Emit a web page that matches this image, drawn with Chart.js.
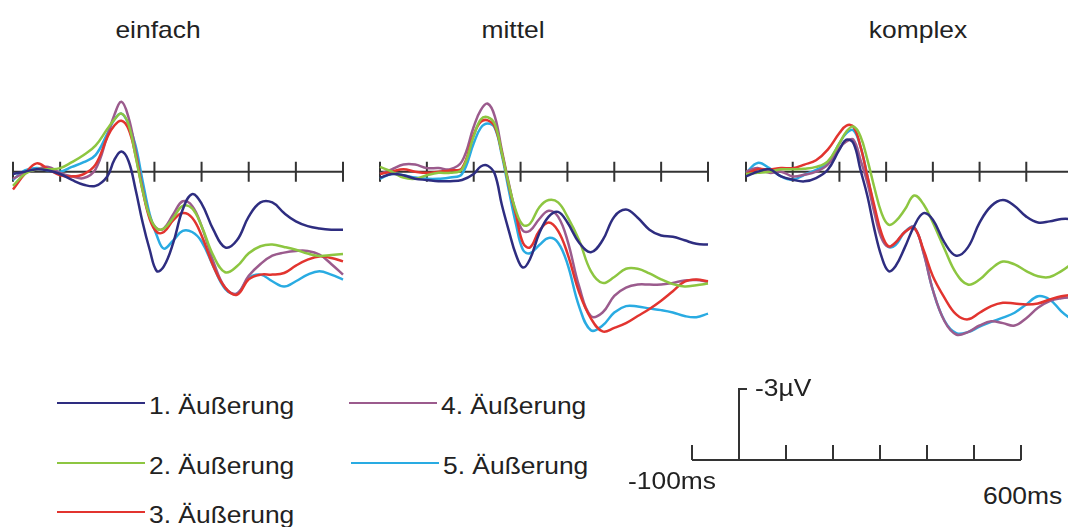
<!DOCTYPE html>
<html>
<head>
<meta charset="utf-8">
<script src="https://cdn.jsdelivr.net/npm/chart.js@4/dist/chart.umd.min.js"></script>
<style>
  body { margin: 0; background: #fff; }
  #wrap { position: relative; width: 1068px; height: 527px; overflow: hidden;
          font-family: "Liberation Sans", Arial, sans-serif; color: #222; }
  canvas { position: absolute; }
  .lbl { position: absolute; font-size: 24px; line-height: 1; white-space: nowrap;
         transform-origin: 0 50%; transform: translateY(-50%) scaleX(1.1); }
  .lbl.mid { transform-origin: 50% 50%; transform: translate(-50%, -50%) scaleX(1.1); }
  .key { position: absolute; height: 0; border-top: 2.5px solid; }
</style>
</head>
<body>
<div id="wrap"></div>
<script>
// time base (ms) shared by all waves, and the axis ticks
const times = [-100,-75,-50,-25,0,25,50,75,100,115,130,145,160,175,190,205,220,240,260,280,300,325,350,375,400,425,450,475,500,525,550,575,600];
const tickTimes = [-100,0,100,200,300,400,500,600];

const seriesNames = ["1. Äußerung","2. Äußerung","3. Äußerung","4. Äußerung","5. Äußerung"];
const seriesColors = ["#2e2d80","#8dc641","#e2342f","#9b5b8d","#29abe2"];
const panelTitles = ["einfach","mittel","komplex"];

// amplitudes in µV (negative plotted up)
const einfach1 = [0.1,0.0,-0.1,-0.05,0.1,0.35,0.55,0.6,0.2,-0.5,-0.85,-0.45,0.75,2.15,3.3,4.2,4.0,3.0,1.6,0.95,1.35,2.45,3.2,2.9,1.9,1.3,1.3,1.75,2.1,2.3,2.4,2.45,2.45];
const einfach2 = [0.6,0.1,-0.1,-0.1,-0.15,-0.4,-0.7,-1.1,-1.8,-2.2,-2.45,-2.0,-0.65,0.8,1.9,2.4,2.4,1.95,1.45,1.55,2.3,3.55,4.25,4.0,3.45,3.15,3.08,3.18,3.3,3.46,3.56,3.52,3.48];
const einfach3 = [0.75,0.1,-0.35,-0.1,0.15,0.2,0.1,-0.3,-1.45,-1.95,-2.15,-1.8,-0.7,0.8,2.0,2.55,2.55,2.05,1.75,1.95,2.7,4.0,4.9,5.2,4.55,4.35,4.35,4.28,3.97,3.72,3.58,3.65,3.79];
const einfach4 = [0.3,0.05,-0.1,-0.2,0.05,0.2,0.27,-0.1,-1.5,-2.4,-2.95,-2.3,-0.9,0.7,1.9,2.4,2.4,1.8,1.25,1.45,2.3,3.8,4.9,5.15,4.4,3.9,3.55,3.42,3.35,3.35,3.5,3.9,4.35];
const einfach5 = [0.35,-0.05,-0.15,-0.05,0.0,-0.2,-0.4,-0.7,-1.6,-2.2,-2.45,-2.0,-1.1,0.4,1.8,2.7,3.25,2.9,2.5,2.55,2.95,4.0,4.95,5.15,4.5,4.35,4.63,4.85,4.63,4.35,4.21,4.35,4.56];

const mittel1 = [0.25,0.1,0.15,0.3,0.35,0.4,0.4,0.35,0.1,-0.22,-0.25,0.1,1.4,2.5,3.5,4.05,3.7,2.6,1.9,1.7,2.15,3.0,3.4,2.9,1.9,1.6,1.95,2.45,2.7,2.75,2.9,3.05,3.08];
const mittel2 = [-0.2,0.0,0.25,0.3,0.15,0.05,0.05,-0.1,-1.5,-2.2,-2.3,-2.0,-0.8,0.55,1.65,2.25,2.2,1.5,1.2,1.3,1.9,2.9,4.2,4.7,4.45,4.1,4.1,4.3,4.55,4.75,4.85,4.8,4.73];
const mittel3 = [0.1,0.0,-0.1,0.0,0.05,0.0,-0.05,-0.15,-1.56,-2.1,-2.17,-1.9,-0.8,0.6,1.8,3.0,3.2,2.5,2.15,2.5,3.45,5.1,6.2,6.75,6.6,6.4,6.1,5.8,5.45,5.05,4.65,4.56,4.63];
const mittel4 = [0.1,-0.1,-0.3,-0.3,-0.15,-0.15,-0.1,-0.44,-1.9,-2.6,-2.87,-2.34,-0.9,0.5,1.75,2.5,2.5,2.0,1.65,1.9,2.9,4.85,6.1,5.95,5.25,4.9,4.77,4.77,4.77,4.7,4.6,4.58,4.66];
const mittel5 = [0.3,0.1,0.15,0.25,0.3,0.3,0.25,0.1,-1.2,-1.85,-2.03,-1.85,-0.7,0.8,2.2,3.3,3.45,3.1,2.8,3.0,3.9,5.7,6.7,6.5,5.95,5.68,5.7,5.78,5.85,5.95,6.1,6.15,6.0];

const komplex1 = [0.2,0.0,-0.1,0.2,0.34,0.41,0.27,-0.08,-0.93,-1.35,-1.2,-0.08,1.04,2.45,3.58,4.2,4.0,3.2,2.3,1.75,2.03,3.0,3.55,3.2,2.15,1.45,1.2,1.45,1.9,2.15,2.1,2.0,2.0];
const komplex2 = [0.1,0.05,0.0,-0.1,-0.1,-0.12,-0.2,-0.44,-1.2,-1.7,-1.91,-1.5,-0.5,0.69,1.74,2.24,2.1,1.6,1.01,1.38,2.15,3.27,4.3,4.77,4.56,4.1,3.8,3.92,4.2,4.42,4.45,4.2,3.85];
const komplex3 = [0.1,-0.1,-0.1,-0.15,-0.15,-0.3,-0.48,-0.93,-1.63,-1.95,-1.9,-1.07,0.2,1.46,2.6,3.15,3.0,2.55,2.38,3.3,4.42,5.33,6.03,6.24,5.96,5.68,5.54,5.57,5.61,5.57,5.4,5.26,5.2];
const komplex4 = [0.0,-0.15,0.05,0.0,0.2,0.13,0.0,-0.3,-1.0,-1.28,-1.35,-0.5,0.48,1.74,2.8,3.18,3.0,2.55,2.35,3.43,5.0,6.32,6.88,6.78,6.5,6.32,6.4,6.5,6.19,5.75,5.47,5.35,5.3];
const komplex5 = [0.05,-0.37,-0.15,0.2,0.34,0.13,-0.08,-0.37,-1.2,-1.63,-1.75,-1.07,0.2,1.6,2.73,3.18,3.1,2.55,2.35,3.4,5.0,6.3,6.82,6.78,6.55,6.35,6.17,5.96,5.61,5.26,5.4,5.9,6.3];

// calibration bar
const barTicks = tickTimes;
const barValue = -3;

const panelSeries = [
  [einfach1, einfach2, einfach3, einfach4, einfach5],
  [mittel1, mittel2, mittel3, mittel4, mittel5],
  [komplex1, komplex2, komplex3, komplex4, komplex5]
];

const wrap = document.getElementById("wrap");

function addLabel(text, x, y, center){
  const d = document.createElement("div");
  d.className = center ? "lbl mid" : "lbl";
  d.textContent = text;
  d.style.left = x + "px";
  d.style.top = y + "px";
  wrap.appendChild(d);
}

function addCanvas(left, top, w, h){
  const c = document.createElement("canvas");
  c.width = w; c.height = h;
  c.style.left = left + "px"; c.style.top = top + "px";
  wrap.appendChild(c);
  return c;
}

// time axis through 0 µV with ticks crossing it
const zeroAxis = {
  id: "zeroAxis",
  beforeDatasetsDraw(chart){
    const {ctx, scales:{x, y}} = chart;
    const y0 = y.getPixelForValue(0);
    ctx.save();
    ctx.strokeStyle = "#333";
    ctx.lineWidth = 2;
    ctx.beginPath();
    ctx.moveTo(x.getPixelForValue(tickTimes[0]), y0);
    ctx.lineTo(x.getPixelForValue(tickTimes[tickTimes.length-1]), y0);
    tickTimes.forEach(t => {
      const px = x.getPixelForValue(t);
      ctx.moveTo(px, y0 - 10);
      ctx.lineTo(px, y0 + 10);
    });
    ctx.stroke();
    ctx.restore();
  }
};

const panelLeft = [3, 370, 736];
const panelWidth = [350, 348, 347];

panelSeries.forEach((series, p) => {
  const cv = addCanvas(panelLeft[p], 77, panelWidth[p], 284);
  new Chart(cv, {
    type: "line",
    data: {
      datasets: series.map((vals, i) => ({
        label: seriesNames[i],
        data: times.map((t, k) => ({x: t, y: vals[k]})),
        borderColor: seriesColors[i],
        borderWidth: 2.5,
        pointRadius: 0,
        tension: 0.4,
        clip: false
      }))
    },
    options: {
      responsive: false,
      animation: false,
      events: [],
      layout: { padding: { left: 10, right: 10, top: 0, bottom: 0 } },
      plugins: { legend: { display: false }, tooltip: { enabled: false } },
      scales: {
        x: { type: "linear", min: -100, max: 600, display: false },
        y: { min: -4, max: 8, reverse: true, display: false }
      }
    },
    plugins: [zeroAxis]
  });
});

// titles
const titleX = [158, 513, 918];
panelTitles.forEach((t, i) => addLabel(t, titleX[i], 30, true));

// legend
const keyPos = [[57, 403], [57, 463], [57, 512], [349, 403], [351, 463]];
seriesNames.forEach((name, i) => {
  const [kx, ky] = keyPos[i];
  const k = document.createElement("div");
  k.className = "key";
  k.style.left = kx + "px";
  k.style.top = (ky - 1) + "px";
  k.style.width = "88px";
  k.style.borderColor = seriesColors[i];
  wrap.appendChild(k);
  addLabel(name, kx + 92, ky + 3, false);
});

// calibration bar: time ticks and -3 µV step
const scaleBar = {
  id: "scaleBar",
  afterDraw(chart){
    const {ctx, scales:{x, y}} = chart;
    const y0 = y.getPixelForValue(0);
    const yTop = y.getPixelForValue(barValue);
    const x0 = x.getPixelForValue(0);
    ctx.save();
    ctx.strokeStyle = "#333";
    ctx.lineWidth = 2;
    ctx.beginPath();
    ctx.moveTo(x.getPixelForValue(barTicks[0]), y0);
    ctx.lineTo(x.getPixelForValue(barTicks[barTicks.length-1]), y0);
    barTicks.forEach(t => {
      const px = x.getPixelForValue(t);
      ctx.moveTo(px, y0);
      ctx.lineTo(px, y0 - 15);
    });
    ctx.moveTo(x0, y0);
    ctx.lineTo(x0, yTop);
    ctx.lineTo(x0 + 8, yTop);
    ctx.stroke();
    ctx.restore();
  }
};

const barCanvas = addCanvas(682, 379, 349, 91);
new Chart(barCanvas, {
  type: "line",
  data: { datasets: [] },
  options: {
    responsive: false,
    animation: false,
    events: [],
    layout: { padding: 10 },
    plugins: { legend: { display: false }, tooltip: { enabled: false } },
    scales: {
      x: { type: "linear", min: -100, max: 600, display: false },
      y: { min: -3, max: 0, reverse: true, display: false }
    }
  },
  plugins: [scaleBar]
});

addLabel("-3µV", 755, 388, false);
addLabel("-100ms", 628, 481, false);
addLabel("600ms", 983, 496, false);
</script>
</body>
</html>
